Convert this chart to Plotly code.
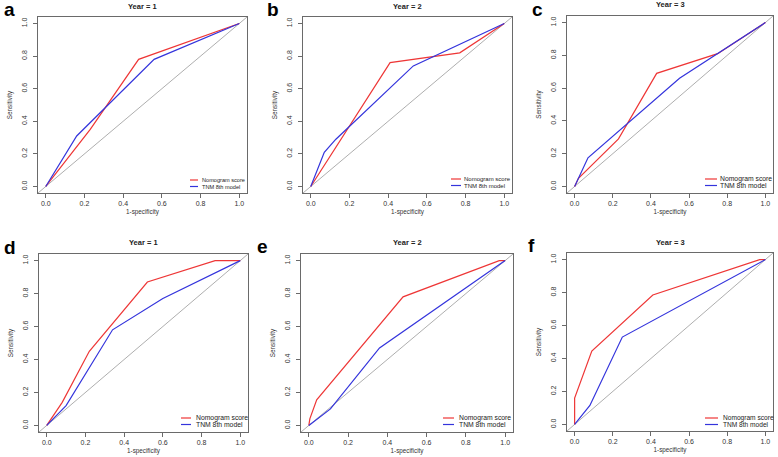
import plotly.graph_objects as go

# ---- data ----
panel_letters = ["a", "b", "c", "d", "e", "f"]
panel_titles = ["Year = 1", "Year = 2", "Year = 3", "Year = 1", "Year = 2", "Year = 3"]
series_names = ["Nomogram score", "TNM 8th model"]

nomo_x = [
    [0, 0.23, 0.48, 1],
    [0, 0.41, 0.77, 1],
    [0, 0.02, 0.23, 0.43, 0.75, 1],
    [0, 0.08, 0.22, 0.52, 0.87, 1],
    [0, 0.005, 0.04, 0.48, 0.97, 1],
    [0, 0, 0.09, 0.41, 0.97, 1],
]
nomo_y = [
    [0, 0.35, 0.78, 1],
    [0, 0.76, 0.82, 1],
    [0, 0.05, 0.29, 0.69, 0.81, 1],
    [0, 0.14, 0.45, 0.87, 1.0, 1],
    [0, 0.04, 0.155, 0.78, 1.0, 1],
    [0, 0.16, 0.445, 0.785, 1.0, 1],
]
tnm_x = [
    [0, 0.16, 0.56, 1],
    [0, 0.07, 0.13, 0.53, 1],
    [0, 0.07, 0.55, 1],
    [0, 0.1, 0.34, 0.6, 1],
    [0, 0.11, 0.36, 1],
    [0, 0.08, 0.25, 1],
]
tnm_y = [
    [0, 0.31, 0.78, 1],
    [0, 0.21, 0.29, 0.74, 1],
    [0, 0.175, 0.66, 1],
    [0, 0.12, 0.58, 0.77, 1],
    [0, 0.10, 0.47, 1],
    [0, 0.115, 0.53, 1],
]
ref_x = [-0.04, 1.04]
ref_y = [-0.04, 1.04]
tick_vals = [0, 0.2, 0.4, 0.6, 0.8, 1.0]
tick_text = ["0.0", "0.2", "0.4", "0.6", "0.8", "1.0"]

# ---- layout geometry (pixels of a 778x457 canvas) ----
W, H = 778, 457
boxes = [  # left, right, top, bottom
    (38, 247, 17, 193),
    (303, 512, 17, 193),
    (567, 773, 16, 193),
    (39, 248, 254, 432),
    (301, 513, 254, 432),
    (567, 773, 253, 431),
]
letter_pos = [(9, 9), (273, 9), (537, 9), (10, 247), (262, 246), (531, 245)]
# legend: line x0, line x1, text x, y of first entry, y of second entry, font size
legend_geom = [
    (190, 198, 200, 180, 186.5, 5.6),
    (451, 461, 462, 179, 185.5, 6.0),
    (705, 717, 718, 179, 185.5, 6.8),
    (181, 191, 194, 418, 424.5, 6.8),
    (443, 454, 457, 418, 424.5, 6.8),
    (705, 718, 721, 418, 424.5, 6.6),
]
RED = "#ee3636"
BLUE = "#3434dc"

FONT = "Liberation Sans, Arial, sans-serif"
fig = go.Figure()
layout = dict(
    width=W, height=H, margin=dict(l=0, r=0, t=0, b=0),
    plot_bgcolor="white", paper_bgcolor="white",
    font=dict(family=FONT, size=7, color="#333"),
    annotations=[], shapes=[], showlegend=False,
)

for i in range(6):
    k = "" if i == 0 else str(i + 1)
    xa, ya = "x" + k, "y" + k
    l, r, t, b = boxes[i]
    xd = [l / W, r / W]
    yd = [1 - b / H, 1 - t / H]
    fig.add_trace(go.Scatter(x=ref_x, y=ref_y, mode="lines", xaxis=xa, yaxis=ya,
                             line=dict(color="#999999", width=0.8), hoverinfo="skip"))
    fig.add_trace(go.Scatter(x=nomo_x[i], y=nomo_y[i], mode="lines", name=series_names[0],
                             xaxis=xa, yaxis=ya, line=dict(color=RED, width=1.2)))
    fig.add_trace(go.Scatter(x=tnm_x[i], y=tnm_y[i], mode="lines", name=series_names[1],
                             xaxis=xa, yaxis=ya, line=dict(color=BLUE, width=1.2)))
    axcommon = dict(range=[-0.04, 1.04], tickvals=tick_vals, ticktext=tick_text,
                    showgrid=False, zeroline=False, showline=True, mirror=True,
                    linecolor="#6a6a6a", linewidth=1, ticks="outside", ticklen=4,
                    tickcolor="#6a6a6a", tickfont=dict(size=7, color="#333"))
    layout["xaxis" + k] = dict(axcommon, domain=xd, anchor=ya,
                               title=dict(text="1-specificity", font=dict(size=6.3), standoff=3))
    layout["yaxis" + k] = dict(axcommon, domain=yd, anchor=xa, tickangle=-90,
                               ticklabelstandoff=3,
                               title=dict(text="Sensitivity", font=dict(size=6.3), standoff=7))
    layout["annotations"].append(dict(
        text="<b>%s</b>" % panel_titles[i], x=(l + r) / 2 / W, y=1 - (t - 11) / H,
        xref="paper", yref="paper", showarrow=False, font=dict(size=7.5, color="#222"),
        xanchor="center", yanchor="middle"))
    lx, ly = letter_pos[i]
    layout["annotations"].append(dict(
        text="<b>%s</b>" % panel_letters[i], x=lx / W, y=1 - ly / H,
        xref="paper", yref="paper", showarrow=False, font=dict(size=19, color="black"),
        xanchor="center", yanchor="middle"))
    # legend (drawn like R's legend(): short line sample + label)
    x0, x1, tx, y1, y2, fs = legend_geom[i]
    for name, col, yy in ((series_names[0], RED, y1), (series_names[1], BLUE, y2)):
        layout["shapes"].append(dict(type="line", xref="paper", yref="paper",
                                     x0=x0 / W, x1=x1 / W, y0=1 - yy / H, y1=1 - yy / H,
                                     line=dict(color=col, width=1.2)))
        layout["annotations"].append(dict(
            text=name, x=tx / W, y=1 - yy / H, xref="paper", yref="paper", showarrow=False,
            xanchor="left", yanchor="middle", font=dict(size=fs, color="#222")))

fig.update_layout(**layout)
fig.write_html("out.html", config={"displayModeBar": False},
               post_script="document.body.style.margin='0';document.body.style.overflow='hidden';")
